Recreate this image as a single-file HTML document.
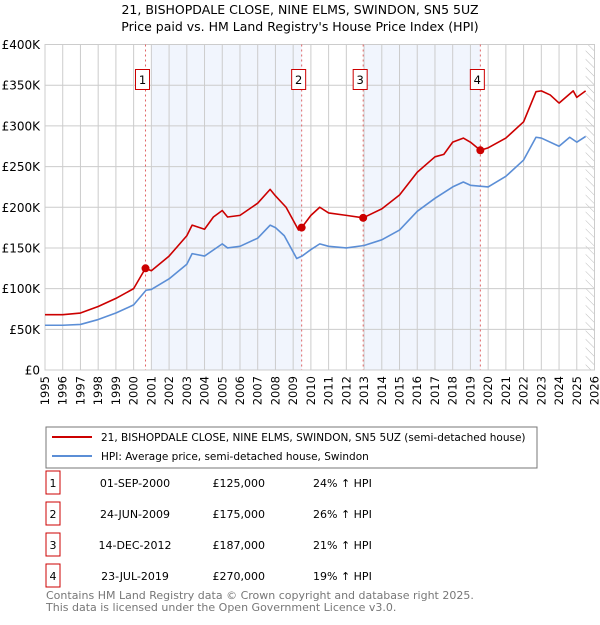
<!DOCTYPE html>
<html><head><meta charset="utf-8"><style>
body{margin:0;background:#fff;font-family:"Liberation Sans","DejaVu Sans",sans-serif;}
svg text{font-family:"DejaVu Sans","Liberation Sans",sans-serif;}
</style></head><body>
<svg id="c" width="600" height="620" xmlns="http://www.w3.org/2000/svg">
<defs><pattern id="hatch" width="6" height="6" patternUnits="userSpaceOnUse" patternTransform="rotate(-45)"><line x1="0" y1="0" x2="0" y2="6" stroke="#bbb" stroke-width="1"/></pattern></defs>
<text x="300" y="14" text-anchor="middle" font-size="12.5">21, BISHOPDALE CLOSE, NINE ELMS, SWINDON, SN5 5UZ</text>
<text x="300" y="31" text-anchor="middle" font-size="12.5">Price paid vs. HM Land Registry's House Price Index (HPI)</text>
<g id="plot"></g>
<rect x="46" y="427" width="491" height="41" fill="#fff" stroke="#777"/>
<line x1="52" y1="437" x2="92" y2="437" stroke="#cc0000" stroke-width="2"/>
<text x="101" y="441" font-size="10.5">21, BISHOPDALE CLOSE, NINE ELMS, SWINDON, SN5 5UZ (semi-detached house)</text>
<line x1="52" y1="456" x2="92" y2="456" stroke="#5b8ed6" stroke-width="2"/>
<text x="101" y="460" font-size="10.5">HPI: Average price, semi-detached house, Swindon</text>
<g id="table"></g>
<text x="46" y="599" font-size="11" fill="#777">Contains HM Land Registry data © Crown copyright and database right 2025.</text>
<text x="46" y="611" font-size="11" fill="#777">This data is licensed under the Open Government Licence v3.0.</text>
</svg>
<script>
const hpiYears=[1995,1996,1997,1998,1999,2000,2000.7,2001,2002,2003,2003.3,2004,2005,2005.3,2006,2007,2007.7,2008,2008.5,2009.2,2009.5,2010,2010.5,2011,2012,2013,2014,2015,2016,2017,2018,2018.6,2019,2020,2021,2022,2022.7,2023,2024,2024.6,2025,2025.5];
const hpiValues=[55,55,56,62,70,80,98,99,112,130,143,140,155,150,152,162,178,175,165,137,140,148,155,152,150,153,160,172,195,211,225,231,227,225,238,258,286,285,275,286,280,287];
const redYears=[1995,1996,1997,1998,1999,2000,2000.67,2001,2002,2003,2003.3,2004,2004.5,2005,2005.3,2006,2007,2007.7,2008,2008.6,2009.3,2009.48,2010,2010.5,2011,2012,2012.95,2014,2015,2016,2017,2017.5,2018,2018.6,2019,2019.56,2020,2021,2022,2022.7,2023,2023.5,2024,2024.8,2025,2025.5];
const redValues=[68,68,70,78,88,100,125,122,140,165,178,173,188,196,188,190,205,222,214,200,172,175,190,200,193,190,187,198,215,243,262,265,280,285,280,270,273,285,305,342,343,338,328,343,335,343];
const saleYears=[2000.67,2009.48,2012.95,2019.56];
const salePrices=[125,175,187,270];
const saleLabels=["1","2","3","4"];
const saleDates=["01-SEP-2000","24-JUN-2009","14-DEC-2012","23-JUL-2019"];
const salePriceText=["£125,000","£175,000","£187,000","£270,000"];
const saleHpi=["24% ↑ HPI","26% ↑ HPI","21% ↑ HPI","19% ↑ HPI"];
const yTicks=[0,50,100,150,200,250,300,350,400];
const yTickLabels=["£0","£50K","£100K","£150K","£200K","£250K","£300K","£350K","£400K"];
const xTicks=[];for(let y=1995;y<=2026;y++)xTicks.push(y);

const X0=45,X1=594.5,Y0=370,Y1=44.5;
const xs=v=>X0+(v-1995)/(2026-1995)*(X1-X0);
const ys=v=>Y0-v/400*(Y0-Y1);
const NS="http://www.w3.org/2000/svg";
const plot=document.getElementById('plot');
function mk(tag,attrs,parent){const e=document.createElementNS(NS,tag);for(const k in attrs)e.setAttribute(k,attrs[k]);(parent||plot).appendChild(e);return e;}

let s=mk('rect',{x:xs(2001),y:Y1,width:xs(saleYears[1])-xs(2001),height:Y0-Y1,fill:'#eef3fc',opacity:0.8});


s=mk('rect',{x:xs(2013),y:Y1,width:xs(saleYears[3])-xs(2013),height:Y0-Y1,fill:'#eef3fc',opacity:0.8});


s=mk('rect',{x:xs(2025.5),y:Y1,width:X1-xs(2025.5),height:Y0-Y1,fill:'url(#hatch)'});



xTicks.forEach(t=>{
  const l=mk('line',{x1:xs(t),x2:xs(t),y1:Y1,y2:Y0,stroke:'#ccc','stroke-width':1});
  
  
  const tx=mk('text',{x:0,y:0,'font-size':11.5,'text-anchor':'end',transform:`translate(${xs(t)+4},${Y0+6}) rotate(-90)`});
  tx.textContent=t;
  
  
});
yTicks.forEach((t,i)=>{
  const l=mk('line',{x1:X0,x2:X1,y1:ys(t),y2:ys(t),stroke:'#ccc','stroke-width':1});
  
  
  const tx=mk('text',{x:40,y:ys(t)+4.5,'font-size':12,'text-anchor':'end'});
  tx.textContent=yTickLabels[i];
  
  
});
let f=mk('rect',{x:X0,y:Y1,width:X1-X0,height:Y0-Y1,fill:'none',stroke:'#ccc'});



saleYears.forEach((yr,i)=>{
  const l=mk('line',{x1:xs(yr),x2:xs(yr),y1:Y1,y2:Y0,stroke:'#e06666','stroke-width':1,'stroke-dasharray':'2,3'});
  
  
});

function line(xa,va,color,name){
  const p=mk('polyline',{points:xa.map((x,i)=>xs(x)+','+ys(va[i])).join(' '),fill:'none',stroke:color,'stroke-width':1.6,'stroke-linejoin':'round'});
  
  
}
line(hpiYears,hpiValues,'#5b8ed6','hpi-line');
line(redYears,redValues,'#cc0000','property-price-line');

saleYears.forEach((yr,i)=>{
  const c=mk('circle',{cx:xs(yr),cy:ys(salePrices[i]),r:4,fill:'#cc0000'});
  
  
  const b=mk('rect',{x:xs(yr)-10,y:69.5,width:14,height:20,fill:'#fff',stroke:'#cc0000'});
  
  
  const t=mk('text',{x:xs(yr)-3,y:84,'font-size':11.5,'text-anchor':'middle'});
  t.textContent=saleLabels[i];
  
  
});

const tbl=document.getElementById('table');
saleYears.forEach((yr,i)=>{
  const cy=483+i*31;
  const b=mk('rect',{x:46,y:cy-12,width:14,height:23,fill:'#fff',stroke:'#cc0000'},tbl);
  
  
  const cells=[[53,saleLabels[i],'middle'],[135,saleDates[i],'middle'],[265,salePriceText[i],'end'],[313,saleHpi[i],'start']];
  const names=['table-sale-number','table-sale-date','table-sale-price','table-sale-hpi'];
  cells.forEach((c,j)=>{
    const t=mk('text',{x:c[0],y:cy+4,'font-size':11,'text-anchor':c[2]},tbl);
    t.textContent=c[1];
    
    
  });
});
</script>
</body></html>
